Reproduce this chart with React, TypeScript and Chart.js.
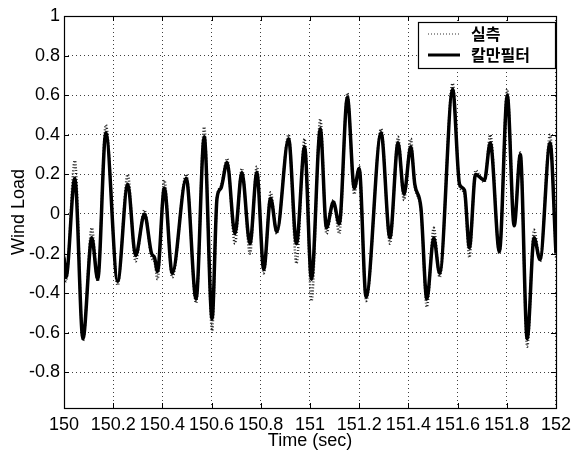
import { useEffect, useRef } from "react";
import { Chart, registerables } from "chart.js";

Chart.register(...registerables);

// ---- data ----
const timeSec = [
  150.0, 150.008, 150.044, 150.077, 150.113, 150.137, 150.17, 150.218, 150.259, 150.291,
  150.327, 150.356, 150.368, 150.38, 150.408, 150.44, 150.497, 150.537, 150.57, 150.602,
  150.622, 150.638, 150.663, 150.695, 150.723, 150.756, 150.784, 150.812, 150.84, 150.865,
  150.913, 150.945, 150.978, 151.006, 151.042, 151.067, 151.095, 151.119, 151.152, 151.18,
  151.2, 151.228, 151.289, 151.325, 151.358, 151.382, 151.41, 151.426, 151.451, 151.475,
  151.503, 151.527, 151.58, 151.608, 151.628, 151.648, 151.673, 151.709, 151.733, 151.77,
  151.802, 151.83, 151.855, 151.883, 151.911, 151.935, 151.976, 152.0,
];
const measured = [
  -0.2, -0.34, 0.27, -0.64, -0.07, -0.34, 0.45, -0.36, 0.2, -0.24,
  0.02, -0.22, -0.24, -0.33, 0.17, -0.32, 0.2, -0.45, 0.44, -0.59,
  0.08, 0.14, 0.28, -0.15, 0.23, -0.2, 0.24, -0.3, 0.11, -0.1,
  0.4, -0.25, 0.38, -0.44, 0.48, -0.1, 0.07, -0.1, 0.61, 0.1,
  0.24, -0.44, 0.43, -0.15, 0.39, 0.07, 0.38, 0.14, 0.02, -0.47,
  -0.07, -0.32, 0.66, 0.14, 0.1, -0.22, 0.22, 0.16, 0.4, -0.2,
  0.63, -0.05, 0.31, -0.67, -0.08, -0.24, 0.4, -0.22,
];
const kalman = [
  -0.22, -0.32, 0.18, -0.63, -0.12, -0.33, 0.41, -0.34, 0.15, -0.21,
  0.0, -0.2, -0.22, -0.29, 0.13, -0.3, 0.18, -0.43, 0.39, -0.53,
  0.08, 0.13, 0.26, -0.1, 0.21, -0.15, 0.21, -0.28, 0.08, -0.09,
  0.38, -0.15, 0.34, -0.33, 0.43, -0.07, 0.06, -0.05, 0.59, 0.13,
  0.23, -0.42, 0.41, -0.12, 0.36, 0.1, 0.34, 0.15, 0.03, -0.43,
  -0.12, -0.3, 0.63, 0.15, 0.12, -0.17, 0.2, 0.17, 0.36, -0.19,
  0.6, -0.06, 0.3, -0.63, -0.12, -0.23, 0.36, -0.2,
];
const xTicks = [150, 150.2, 150.4, 150.6, 150.8, 151, 151.2, 151.4, 151.6, 151.8, 152];
const yTicks = [-0.8, -0.6, -0.4, -0.2, 0, 0.2, 0.4, 0.6, 0.8, 1];
const xRange = [150, 152];
const yRange = [-0.98, 1];
const seriesLabels = ["실측", "칼만필터"];
const xTitle = "Time (sec)";
const yTitle = "Wind Load";

const FONT = "Liberation Sans, Arial, sans-serif";
const fmt = (v: number) => String(Number(v.toFixed(1)));

const matlabFrame = {
  id: "matlabFrame",
  afterDraw(chart: any) {
    const ctx = chart.ctx as CanvasRenderingContext2D;
    const { left, right, top, bottom } = chart.chartArea;
    const xs = chart.scales.x;
    const ys = chart.scales.y;
    ctx.save();
    ctx.setLineDash([]);
    ctx.strokeStyle = "#000";
    ctx.lineWidth = 1;
    const tl = 5;
    ctx.beginPath();
    xTicks.forEach((v) => {
      const px = Math.round(xs.getPixelForValue(v)) + 0.5;
      ctx.moveTo(px, bottom);
      ctx.lineTo(px, bottom - tl);
      ctx.moveTo(px, top);
      ctx.lineTo(px, top + tl);
    });
    yTicks.forEach((v) => {
      const py = Math.round(ys.getPixelForValue(v)) + 0.5;
      ctx.moveTo(left, py);
      ctx.lineTo(left + tl, py);
      ctx.moveTo(right, py);
      ctx.lineTo(right - tl, py);
    });
    ctx.stroke();
    ctx.lineWidth = 1.2;
    ctx.strokeRect(Math.round(left) + 0.5, Math.round(top) + 0.5, Math.round(right - left), Math.round(bottom - top));

    ctx.fillStyle = "#000";
    ctx.font = `18px ${FONT}`;
    ctx.textAlign = "center";
    ctx.textBaseline = "middle";
    ctx.fillText(xTitle, (left + right) / 2, 441);
    ctx.save();
    ctx.translate(19, (top + bottom) / 2);
    ctx.rotate(-Math.PI / 2);
    ctx.fillText(yTitle, 0, 0);
    ctx.restore();

    const lx = 418, ly = 22, lw = 137, lh = 46;
    ctx.fillStyle = "#fff";
    ctx.fillRect(lx, ly, lw, lh);
    ctx.strokeStyle = "#000";
    ctx.lineWidth = 1.2;
    ctx.strokeRect(lx + 0.5, ly + 0.5, lw, lh);
    const ds = chart.data.datasets;
    const rows = [ly + 12, ly + 33];
    ds.forEach((d: any, i: number) => {
      const y = rows[i];
      ctx.save();
      ctx.strokeStyle = i === 0 ? "#777" : d.borderColor;
      ctx.lineWidth = i === 0 ? 1.5 : 3;
      ctx.setLineDash(d.borderDash || []);
      ctx.beginPath();
      ctx.moveTo(lx + 10, y);
      ctx.lineTo(lx + 42, y);
      ctx.stroke();
      ctx.restore();
      ctx.fillStyle = "#000";
      ctx.font = `bold 16px "Noto Sans CJK KR", sans-serif`;
      ctx.textAlign = "left";
      ctx.textBaseline = "middle";
      ctx.fillText(d.label, lx + 53, y);
    });
    ctx.restore();
  },
};

export default function App() {
  const ref = useRef<HTMLCanvasElement | null>(null);
  useEffect(() => {
    if (!ref.current) return;
    const chart = new Chart(ref.current, {
      type: "line",
      data: {
        datasets: [
          {
            label: seriesLabels[0],
            data: timeSec.map((t, i) => ({ x: t, y: measured[i] })),
            borderColor: "#222",
            borderWidth: 2.5,
            borderDash: [1, 2],
            pointRadius: 0,
            cubicInterpolationMode: "monotone",
            order: 1,
          },
          {
            label: seriesLabels[1],
            data: timeSec.map((t, i) => ({ x: t, y: kalman[i] })),
            borderColor: "#000",
            borderWidth: 3.5,
            pointRadius: 0,
            cubicInterpolationMode: "monotone",
            order: 0,
          },
        ],
      },
      options: {
        animation: false,
        responsive: false,
        layout: { padding: { left: 0, top: 16, right: 18, bottom: 0 } },
        plugins: { legend: { display: false }, tooltip: { enabled: false } },
        scales: {
          x: {
            type: "linear",
            min: xRange[0],
            max: xRange[1],
            afterBuildTicks: (s: any) => {
              s.ticks = xTicks.map((v) => ({ value: v }));
            },
            afterFit: (s: any) => {
              s.height = 47;
            },
            grid: { color: "rgba(0,0,0,0.75)", lineWidth: 1, drawTicks: false },
            border: { display: false, dash: [1, 3] },
            ticks: {
              color: "#000",
              padding: 6,
              maxRotation: 0,
              autoSkip: false,
              font: { family: FONT, size: 18 },
              callback: (v: any) => fmt(Number(v)),
            },
          },
          y: {
            type: "linear",
            min: yRange[0],
            max: yRange[1],
            afterBuildTicks: (s: any) => {
              s.ticks = yTicks.map((v) => ({ value: v }));
            },
            afterFit: (s: any) => {
              s.width = 64;
            },
            grid: { color: "rgba(0,0,0,0.75)", lineWidth: 1, drawTicks: false },
            border: { display: false, dash: [1, 3] },
            ticks: {
              color: "#000",
              padding: 4,
              autoSkip: false,
              font: { family: FONT, size: 18 },
              callback: (v: any) => fmt(Number(v)),
            },
          },
        },
      },
      plugins: [matlabFrame],
    } as any);
    return () => chart.destroy();
  }, []);
  return (
    <div style={{ position: "fixed", left: 0, top: 0, width: 577, height: 455, background: "#fff" }}>
      <canvas ref={ref} width={577} height={455} style={{ display: "block" }} />
    </div>
  );
}
